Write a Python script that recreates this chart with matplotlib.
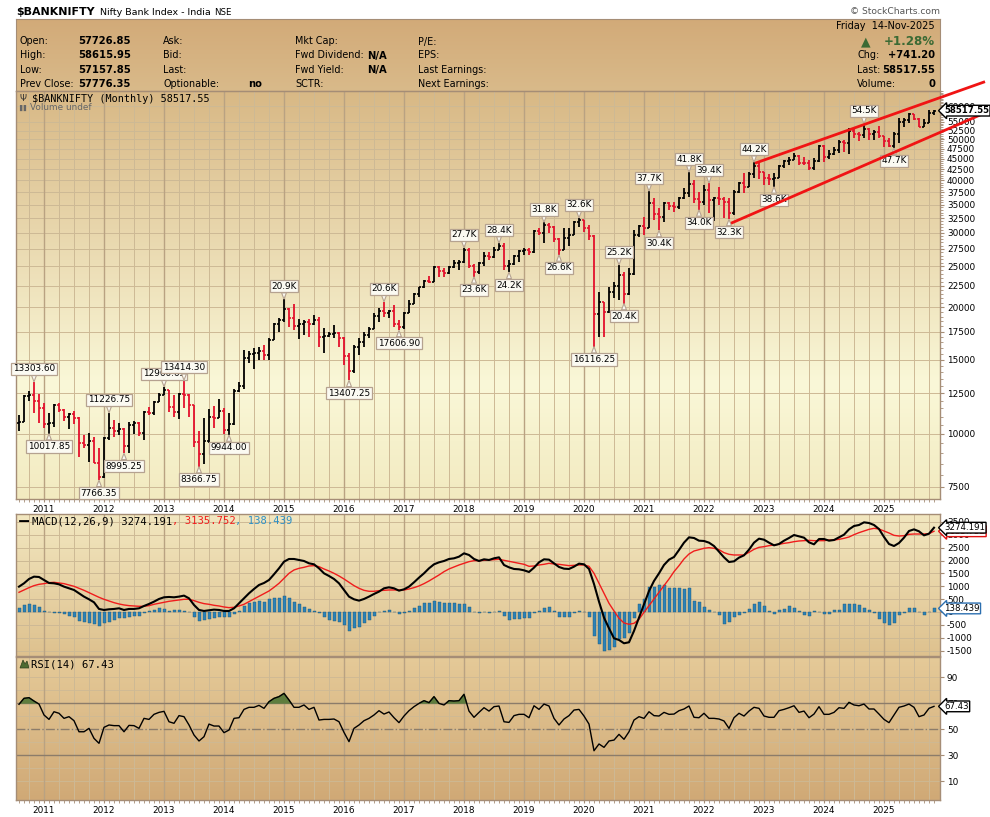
"""
$BANKNIFTY monthly chart (StockCharts style) - price bars, MACD, RSI
"""
import numpy as np
import matplotlib
matplotlib.use('Agg')
import matplotlib.pyplot as plt
from matplotlib.lines import Line2D
from matplotlib.patches import Polygon
from matplotlib.ticker import FixedLocator, NullFormatter

# ==================== data (monthly, Aug-2010 .. Nov-2025) ====================
START_YEAR, START_MONTH = 2010, 8

opens = [
    10600, 10700, 12300, 12400, 11950,
    11550, 10550, 10620, 11700, 11400, 11000, 11130, 10900, 9500, 9420, 9600, 8550,
    7900, 9800, 10350, 10150, 10300, 9350, 10500, 10600, 10050, 11300, 11200, 11900,
    12350, 12700, 11600, 11300, 12450, 12400, 11700, 9550, 8950, 9650, 11000, 10900,
    11350, 10200, 10550, 12650, 13000, 15150, 15450, 15600, 15700, 15400, 16750, 18200,
    18600, 19750, 18850, 18000, 18200, 18400, 18200, 18650, 17000, 17100, 17300, 17350,
    16920, 15300, 14100, 16100, 16500, 17200, 17700, 19100, 19600, 19400, 19550, 18200,
    17900, 19400, 20400, 21450, 22300, 23050, 22950, 24900, 24300, 24100, 24900, 25400,
    25550, 27400, 25000, 24250, 25500, 26400, 26350, 27350, 28000, 25100, 25300, 26500,
    27150, 27300, 27000, 30400, 30000, 31400, 31000, 29000, 27400, 29100, 29700, 31800,
    32150, 30800, 29500, 19300, 20600, 19500, 21700, 22500, 23900, 21450, 24000, 29600,
    31200, 30900, 35300, 33300, 32800, 35300, 34800, 34600, 36300, 37400, 39100, 36200,
    35480, 37900, 35900, 36300, 36100, 35500, 33400, 37500, 39500, 38600, 41300, 43230,
    41900, 40400, 40250, 40600, 43200, 44400, 44700, 45650, 44000, 43900, 42850, 44550,
    48300, 45400, 46150, 47100, 49400, 48950, 52340, 51500, 51300, 52980, 51475, 52055,
    50860, 49587, 48344, 51564, 55087, 55750, 57313, 55962, 53660, 54635, 57726.85,
]
highs = [
    11100, 12380, 12650, 13303.60, 12420,
    11820, 11200, 11800, 11850, 11480, 11200, 11330, 10990, 9960, 10050, 9850, 9250,
    9850, 11226.75, 10800, 10600, 10350, 10670, 10730, 10650, 11360, 11560, 11950, 12500,
    12960.65, 12750, 12390, 12510, 13414.30, 12450, 11700, 10170, 10900, 11450, 11630, 12090,
    11540, 11230, 12800, 13300, 15860, 15750, 15960, 16060, 16220, 16870, 18350, 18810,
    20900, 19900, 20350, 18720, 18650, 18710, 19160, 18990, 17810, 17490, 18140, 17490,
    17020, 15540, 16260, 16870, 17490, 17980, 19340, 19870, 20610, 19690, 20200, 18645,
    19510, 20800, 21570, 22370, 23200, 23700, 25040, 25040, 24720, 25040, 25880, 25880,
    27700, 27580, 25300, 25640, 27080, 27080, 27830, 28388, 28350, 25880, 26590, 27330,
    27580, 27580, 30490, 30770, 31800, 31740, 31100, 29100, 30770, 30770, 32000, 32600,
    32250, 31330, 29670, 21770, 20600, 22370, 22990, 25200, 24280, 24720, 30490, 31330,
    32790, 37708, 36250, 34320, 35590, 35590, 35590, 36580, 38280, 41830, 40070, 37590,
    38990, 39420, 36580, 38640, 36500, 36250, 37940, 39700, 41560, 41930, 44150, 43890,
    41930, 41330, 41560, 43490, 44700, 45520, 46360, 45940, 45520, 44700, 45100, 48510,
    48510, 47200, 48070, 49860, 49860, 53140, 53000, 52000, 54467, 53140, 52660, 53890,
    51000, 50310, 52180, 56120, 56120, 57680, 57600, 56300, 55800, 58580, 58615.95,
]
lows = [
    10190, 10650, 11950, 11230, 10600,
    10310, 10017.85, 10410, 11300, 10740, 10290, 10540, 8840, 9250, 8600, 8530, 7766.35,
    7850, 9680, 9860, 9950, 8995.25, 9030, 10000, 9900, 9680, 11100, 11100, 11900,
    12350, 11300, 11000, 10830, 11500, 10960, 9330, 8366.75, 8500, 9500, 10320, 10900,
    9980, 9944.00, 10500, 12600, 12800, 14700, 14270, 14990, 14990, 14990, 16750, 17420,
    18390, 17980, 17620, 16840, 17200, 17020, 18140, 16116, 15600, 17020, 16870, 16116,
    14580, 13407.25, 13980, 15400, 16116, 16870, 17700, 18470, 18990, 18820, 17980, 17606.90,
    17710, 19340, 20400, 21180, 22170, 22800, 22950, 23620, 23620, 24000, 24720, 24500,
    25410, 24720, 23600, 24000, 25000, 25900, 26120, 27330, 24500, 24200, 25180, 25640,
    26590, 26590, 26840, 29670, 28350, 29940, 28600, 26600, 27300, 27900, 29670, 31050,
    30210, 28870, 16116.25, 17020, 17020, 19400, 20990, 20800, 20400, 21400, 23900, 29400,
    29670, 30900, 32200, 30405, 31900, 34010, 33700, 34100, 36200, 36580, 35270, 34020,
    34950, 33390, 32000, 34950, 32500, 32290, 33100, 37250, 37250, 38600, 40400, 40300,
    38990, 39000, 38600, 40400, 42700, 43490, 44700, 43490, 43490, 42320, 42320, 44290,
    44290, 45000, 45900, 46500, 46780, 46077, 50310, 49700, 50310, 49860, 49860, 50400,
    47900, 47850, 47702, 49000, 53620, 54610, 55610, 53620, 53560, 54610, 57157.85,
]
closes = [
    10700, 12300, 12400, 11950, 11550,
    10550, 10620, 11700, 11400, 11000, 11130, 10900, 9500, 9420, 9600, 8550, 7900,
    9800, 10350, 10150, 10300, 9350, 10500, 10600, 10050, 11300, 11200, 11900, 12350,
    12700, 11600, 11300, 12450, 12400, 11700, 9550, 8950, 9650, 11000, 10900, 11350,
    10200, 10550, 12650, 13000, 15150, 15450, 15600, 15700, 15400, 16750, 18200, 18600,
    19750, 18850, 18000, 18200, 18400, 18200, 18650, 17000, 17100, 17300, 17350, 16920,
    15300, 14100, 16100, 16500, 17200, 17700, 19100, 19600, 19400, 19550, 18200, 17900,
    19400, 20400, 21450, 22300, 23050, 22950, 24900, 24300, 24100, 24900, 25400, 25550,
    27400, 25000, 24250, 25500, 26400, 26350, 27350, 28000, 25100, 25300, 26500, 27150,
    27300, 27000, 30400, 30000, 31400, 31000, 29000, 27400, 29100, 29700, 31800, 32150,
    30800, 29500, 19300, 20600, 19500, 21700, 22500, 23900, 21450, 24000, 29600, 31200,
    30900, 35300, 33300, 32800, 35300, 34800, 34600, 36300, 37400, 39100, 36200, 35480,
    37900, 35900, 36300, 36100, 35500, 33400, 37500, 39500, 38600, 41300, 43230, 41900,
    40400, 40250, 40600, 43200, 44400, 44700, 45650, 44000, 43900, 42850, 44550, 48300,
    45400, 46150, 47100, 49400, 48950, 52340, 51500, 51300, 52980, 51475, 52055, 50860,
    49587, 48344, 51564, 55087, 55750, 57313, 55962, 53660, 54635, 57776.35, 58517.55,
]

macd = [
    985, 1114, 1282, 1373, 1360,
    1243, 1127, 1114, 1075, 985, 920, 855, 726, 597, 493, 376, 118,
    79, 105, 118, 143, 79, 118, 118, 143, 234, 312, 402, 506,
    571, 584, 571, 597, 636, 532, 273, 79, 40, 66, 92, 79,
    40, 40, 143, 338, 532, 726, 894, 1049, 1127, 1243, 1464, 1696,
    1955, 2059, 2059, 2020, 1981, 1891, 1852, 1696, 1502, 1399, 1282, 1114,
    855, 597, 493, 441, 506, 597, 700, 791, 920, 959, 920, 829,
    881, 985, 1153, 1334, 1502, 1696, 1852, 1929, 1981, 2059, 2085, 2149,
    2279, 2214, 2059, 1981, 2046, 2020, 2085, 2123, 1826, 1735, 1671, 1658,
    1619, 1554, 1722, 1929, 2046, 2033, 1891, 1748, 1683, 1671, 1761, 1878,
    1852, 1671, 1088, 402, -219, -633, -1021, -1086, -1215, -1176, -736, -219,
    299, 816, 1205, 1502, 1826, 2033, 2136, 2408, 2693, 2900, 2874, 2770,
    2758, 2693, 2563, 2344, 2123, 1942, 1968, 2111, 2201, 2421, 2693, 2848,
    2809, 2693, 2589, 2641, 2770, 2874, 2990, 2939, 2887, 2706, 2628, 2835,
    2835, 2770, 2796, 2900, 3003, 3210, 3340, 3379, 3482, 3456, 3379, 3223,
    2913, 2641, 2563, 2680, 2887, 3146, 3210, 3133, 2977, 3042, 3274.191,
]
signal = [
    765, 855, 946, 1024, 1075,
    1101, 1140, 1153, 1127, 1101, 1049, 998, 920, 842, 752, 661, 571,
    493, 428, 363, 312, 273, 247, 234, 221, 221, 247, 299, 338,
    376, 415, 441, 467, 493, 493, 441, 376, 325, 299, 260, 234,
    195, 169, 182, 234, 299, 402, 506, 610, 713, 816, 959, 1114,
    1308, 1502, 1632, 1696, 1735, 1787, 1800, 1761, 1671, 1593, 1502, 1399,
    1282, 1153, 1024, 920, 842, 804, 804, 829, 842, 855, 855, 855,
    855, 894, 946, 1011, 1101, 1205, 1321, 1438, 1567, 1671, 1748, 1826,
    1891, 1955, 1994, 1994, 2007, 2020, 2033, 2046, 2007, 1968, 1929, 1891,
    1852, 1774, 1787, 1826, 1852, 1891, 1865, 1852, 1826, 1800, 1813, 1826,
    1826, 1774, 1502, 1114, 726, 338, 40, -245, -426, -477, -439, -284,
    -12, 247, 506, 765, 1024, 1282, 1567, 1800, 2059, 2253, 2369, 2421,
    2473, 2499, 2473, 2421, 2305, 2240, 2214, 2214, 2214, 2318, 2434, 2512,
    2538, 2576, 2602, 2628, 2667, 2693, 2732, 2758, 2770, 2783, 2770, 2770,
    2770, 2796, 2796, 2822, 2861, 2913, 3003, 3081, 3146, 3210, 3249, 3223,
    3146, 3068, 2977, 2951, 2964, 3016, 3029, 3029, 3029, 3042, 3135.752,
]
hist = [
    142, 272, 311, 272, 181,
    52, -13, -26, -52, -91, -142, -207, -336, -401, -414, -479, -543,
    -440, -375, -311, -246, -220, -194, -168, -142, -39, 39, 78, 168,
    116, 52, 65, 65, 39, -13, -181, -349, -324, -285, -233, -181,
    -207, -207, -65, 39, 220, 336, 401, 440, 401, 492, 531, 556,
    621, 531, 401, 298, 194, 104, 52, -52, -181, -311, -349, -375,
    -505, -725, -634, -569, -440, -311, -155, -13, 39, 65, -13, -65,
    -26, 39, 142, 246, 336, 362, 440, 401, 362, 362, 336, 298,
    324, 194, -13, -26, -13, -39, -13, 39, -150, -310, -285, -260,
    -245, -245, -50, 40, 170, 195, 40, -180, -180, -180, -50, 40,
    -15, -180, -930, -1254, -1500, -1475, -1345, -1050, -1000, -800, -220, 300,
    490, 980, 980, 1050, 1050, 920, 920, 920, 890, 945, 425, 400,
    205, 80, -15, -115, -480, -375, -180, -115, -50, 115, 320, 375,
    245, 40, -75, 80, 115, 235, 140, 40, -115, -155, 40, -10,
    -60, -75, 80, 80, 300, 310, 300, 270, 170, 80, -50, -285,
    -440, -505, -440, -115, -50, 140, 140, -15, -115, -15, 138.439,
]
rsi = [
    69.0, 73.6, 74.1, 71.5, 69.2,
    60.8, 57.4, 63.3, 62.1, 58.2, 59.5, 56.4, 47.9, 47.9, 50.5, 42.8, 39.0,
    51.3, 53.1, 52.6, 52.6, 47.9, 52.8, 52.6, 50.5, 58.2, 57.4, 61.3, 62.8,
    63.6, 55.6, 54.4, 60.3, 59.5, 53.1, 45.4, 40.8, 44.1, 53.8, 52.3, 52.3,
    47.2, 49.2, 58.2, 58.7, 65.1, 66.7, 66.7, 68.2, 65.9, 71.0, 73.6, 74.9,
    77.4, 72.3, 66.7, 66.7, 68.5, 65.1, 66.7, 56.9, 57.4, 57.4, 57.7, 55.6,
    47.4, 40.3, 50.5, 53.1, 56.4, 58.2, 60.8, 64.1, 61.5, 63.1, 58.7, 54.9,
    60.0, 64.1, 67.2, 69.7, 71.8, 70.3, 74.9, 69.7, 68.5, 71.8, 71.5, 71.8,
    76.7, 63.8, 59.0, 62.8, 66.4, 63.8, 67.2, 67.7, 55.6, 55.1, 60.3, 61.3,
    61.3, 58.7, 67.9, 65.1, 69.2, 67.7, 58.2, 53.1, 57.7, 60.3, 64.6, 65.1,
    60.0, 53.8, 33.3, 38.5, 35.9, 40.8, 41.5, 45.9, 42.1, 47.9, 56.9, 59.5,
    58.2, 63.3, 60.3, 60.0, 62.8, 61.3, 61.5, 64.1, 65.4, 67.7, 59.0, 58.7,
    62.1, 58.2, 58.2, 57.7, 56.2, 50.5, 58.7, 62.1, 60.0, 63.8, 66.7, 65.9,
    60.0, 59.0, 59.0, 64.1, 65.1, 66.4, 67.9, 62.8, 63.8, 58.7, 61.5, 67.2,
    61.3, 61.3, 62.8, 66.4, 65.9, 70.5, 68.5, 67.9, 69.2, 65.4, 65.4, 61.5,
    57.4, 54.9, 60.8, 66.7, 67.7, 69.2, 66.7, 59.5, 60.8, 65.9, 67.43,
]

# labelled swing highs / lows: (bar index, text)
high_labels = [(3, '13303.60'), (18, '11226.75'), (29, '12960.65'), (33, '13414.30'),
               (53, '20.9K'), (73, '20.6K'), (89, '27.7K'), (96, '28.4K'), (105, '31.8K'),
               (112, '32.6K'), (120, '25.2K'), (126, '37.7K'), (134, '41.8K'),
               (138, '39.4K'), (147, '44.2K'), (169, '54.5K')]
low_labels = [(6, '10017.85'), (16, '7766.35'), (21, '8995.25'), (36, '8366.75'),
              (42, '9944.00'), (66, '13407.25'), (76, '17606.90'), (91, '23.6K'),
              (98, '24.2K'), (108, '26.6K'), (115, '16116.25'), (121, '20.4K'),
              (128, '30.4K'), (136, '34.0K'), (142, '32.3K'), (151, '38.6K'), (175, '47.7K')]

# trend channel drawn on chart: (bar index, price) end points
upper_trend = [(147.2, 43900), (193.2, 68560)]
lower_trend = [(142.4, 31630), (194.2, 58510)]

price_ticks = [7500, 10000, 12500, 15000, 17500, 20000, 22500, 25000, 27500, 30000,
               32500, 35000, 37500, 40000, 42500, 45000, 47500, 50000, 52500, 55000, 60000]
macd_ticks = [-1500, -1000, -500, 0, 500, 1000, 1500, 2000, 2500, 3000, 3500]
rsi_ticks = [10, 30, 50, 70, 90]

# ==================== helpers ====================
W, H = 990, 817
UP_C, DN_C = 'black', '#e3102c'
GRID_MIN, GRID_YEAR = '#cdb995', '#b9a282'
FRAME = '#a58d76'


def rect(x0, y0, x1, y1):
    return [x0 / W, 1 - y1 / H, (x1 - x0) / W, (y1 - y0) / H]


def gradient(r, stops):
    bg = fig.add_axes(r, zorder=0)
    t = np.linspace(0, 1, 200)
    pos = [s[0] for s in stops]
    cols = np.array([s[1] for s in stops], dtype=float) / 255
    img = np.stack([np.interp(t, pos, cols[:, c]) for c in range(3)], axis=-1)
    bg.imshow(img[:, None, :], aspect='auto', extent=(0, 1, 0, 1))
    bg.set_axis_off()


def ftext(x, y, s, **kw):
    kw.setdefault('va', 'center')
    fig.text(x / W, 1 - y / H, s, **kw)


def style_axis(ax):
    for sp in ax.spines.values():
        sp.set_color(FRAME)
        sp.set_linewidth(1.0)
    ax.tick_params(axis='both', which='both', colors=FRAME, labelcolor='black',
                   labelsize=6.4, pad=2)
    ax.tick_params(axis='y', which='major', length=3, right=True, left=False,
                   labelright=True, labelleft=False)
    ax.tick_params(axis='y', which='minor', length=2, right=True, left=False)
    ax.tick_params(axis='x', which='major', length=2)
    ax.tick_params(axis='x', which='minor', length=2)


def vgrid(ax):
    for i in qtr_idx:
        ax.axvline(i, color=GRID_MIN, lw=0.7, zorder=0.5)
    for i in year_idx:
        ax.axvline(i, color=GRID_YEAR, lw=1.0, zorder=0.6)


def tag(ax, yval, text, ec, tc, bold=False, z=10):
    ax.annotate(text, xy=(1, yval), xycoords=('axes fraction', 'data'),
                xytext=(3, 0), textcoords='offset points', ha='left', va='center',
                fontsize=6.2, fontweight='bold' if bold else 'normal', color=tc,
                bbox=dict(boxstyle='larrow,pad=0.1', fc='white', ec=ec, lw=1.0),
                annotation_clip=False, zorder=z)


n = len(closes)
x = np.arange(n)
o, hi, lo, c = (np.array(a, dtype=float) for a in (opens, highs, lows, closes))
months = [(START_MONTH - 1 + i) % 12 + 1 for i in range(n)]
year_idx = [i for i in range(n) if months[i] == 1]
year_lab = [str(START_YEAR + (START_MONTH - 1 + i) // 12) for i in year_idx]
qtr_idx = [i for i in range(n) if months[i] in (4, 7, 10)]
XLIM = (-0.6, 184.2)

fig = plt.figure(figsize=(9.9, 8.17), dpi=100)
fig.patch.set_facecolor('white')

# ==================== header ====================
gradient(rect(16, 19, 940, 91), [(0, (210, 170, 120)), (1, (217, 186, 138))])
hdr = fig.add_axes(rect(16, 19, 940, 91), zorder=1)
hdr.set_facecolor('none')
hdr.set_xticks([]); hdr.set_yticks([])
for sp in hdr.spines.values():
    sp.set_color(FRAME)

ftext(16, 12, '$BANKNIFTY', fontsize=7.9, fontweight='bold')
ftext(100, 12.5, 'Nifty Bank Index - India', fontsize=6.8)
ftext(214, 12.5, 'NSE', fontsize=6.2)
ftext(940, 12, '\u00a9 StockCharts.com', fontsize=6.6, color='#555555', ha='right')

rows = [41.5, 55.5, 70, 84]
LBL = dict(fontsize=6.9)
VAL = dict(fontsize=7.2, fontweight='bold')
for y, lab, val in zip(rows, ['Open:', 'High:', 'Low:', 'Prev Close:'],
                       ['57726.85', '58615.95', '57157.85', '57776.35']):
    ftext(20, y, lab, **LBL)
    ftext(78, y, val, **VAL)
for y, lab in zip(rows, ['Ask:', 'Bid:', 'Last:', 'Optionable:']):
    ftext(163, y, lab, **LBL)
ftext(248, rows[3], 'no', **VAL)
for y, lab in zip(rows, ['Mkt Cap:', 'Fwd Dividend:', 'Fwd Yield:', 'SCTR:']):
    ftext(295, y, lab, **LBL)
ftext(367, rows[1], 'N/A', **VAL)
ftext(367, rows[2], 'N/A', **VAL)
for y, lab in zip(rows, ['P/E:', 'EPS:', 'Last Earnings:', 'Next Earnings:']):
    ftext(418, y, lab, **LBL)

ftext(935, 26, 'Friday  14-Nov-2025', fontsize=7, ha='right')
ftext(866, 41.5, '\u25b2', fontsize=9, color='#3b6a34', ha='center')
ftext(935, 41.5, '+1.28%', fontsize=8.6, fontweight='bold', color='#3b6a34', ha='right')
ftext(857, 55.5, 'Chg:', **LBL)
ftext(935, 55.5, '+741.20', ha='right', **VAL)
ftext(857, 70, 'Last:', **LBL)
ftext(935, 70, '58517.55', ha='right', **VAL)
ftext(857, 84, 'Volume:', **LBL)
ftext(935, 84, '0', ha='right', **VAL)

# ==================== price panel ====================
PR = rect(16, 91, 940, 499)
gradient(PR, [(0, (216, 184, 133)), (0.72, (250, 248, 216)), (1, (242, 234, 192))])
ax = fig.add_axes(PR, zorder=2)
ax.set_facecolor('none')
ax.set_yscale('log')
ax.set_xlim(*XLIM)
ax.set_ylim(7010, 65150)
vgrid(ax)
for t in price_ticks:
    ax.axhline(t, color=GRID_MIN, lw=0.7, zorder=0.5)

up = np.r_[True, c[1:] >= c[:-1]]
cols = np.where(up, UP_C, DN_C)
ax.vlines(x, lo, hi, colors=cols, lw=1.3, zorder=3)
ax.hlines(o, x - 0.45, x, colors=cols, lw=1.2, zorder=3)
ax.hlines(c, x, x + 0.45, colors=cols, lw=1.2, zorder=3)

ax.yaxis.set_major_locator(FixedLocator(price_ticks))
ax.set_yticklabels([str(t) for t in price_ticks])
ax.yaxis.set_minor_locator(FixedLocator(np.arange(7000, 65001, 500)))
ax.yaxis.set_minor_formatter(NullFormatter())
ax.set_xticks(year_idx)
ax.set_xticklabels(year_lab)
ax.set_xticks(x, minor=True)
style_axis(ax)

LBOX = dict(boxstyle='square,pad=0.18', fc='#fbfaf2', ec='#b5a290', lw=0.9)
WEDGE = dict(arrowstyle='wedge,tail_width=0.55,shrink_factor=0.5', fc='#fbfaf2',
             ec='#b5a290', lw=0.8, shrinkA=0, shrinkB=0)
for i, s in high_labels:
    ax.annotate(s, xy=(i, hi[i]), xytext=(0, 6), textcoords='offset points',
                ha='center', va='bottom', fontsize=6.4, bbox=LBOX, arrowprops=WEDGE,
                zorder=6, annotation_clip=False)
for i, s in low_labels:
    ax.annotate(s, xy=(i, lo[i]), xytext=(0, -6), textcoords='offset points',
                ha='center', va='top', fontsize=6.4, bbox=LBOX, arrowprops=WEDGE,
                zorder=6, annotation_clip=False)

for seg in (upper_trend, lower_trend):
    ax.plot([p[0] for p in seg], [p[1] for p in seg], color='#f01414', lw=2.0,
            clip_on=False, zorder=7, solid_capstyle='butt')

tag(ax, c[-1], f'{c[-1]:.2f}', 'black', 'black', bold=True)

ftext(32, 98.5, '$BANKNIFTY (Monthly) 58517.55', family='DejaVu Sans Mono', fontsize=7.3)
ftext(20, 98.5, '\u03a8', fontsize=6.5, color='#333333')
ftext(30, 108, 'Volume undef', fontsize=6.4, color='#666666')
ftext(19, 108, '\u258c\u258c', fontsize=4.5, color='#666666')

# ==================== MACD panel ====================
MR = rect(16, 514, 940, 656)
gradient(MR, [(0, (242, 231, 192)), (1, (222, 193, 142))])
axm = fig.add_axes(MR, zorder=2)
axm.set_facecolor('none')
axm.set_xlim(*XLIM)
axm.set_ylim(-1709, 3806)
vgrid(axm)
for t in macd_ticks:
    axm.axhline(t, color=GRID_MIN, lw=0.7, zorder=0.5)
axm.bar(x, hist, width=0.6, color='#2c82b6', edgecolor='#1d5677', lw=0.3, zorder=2)
axm.plot(x, macd, color='black', lw=1.5, zorder=4)
axm.plot(x, signal, color='#f01c1c', lw=1.0, zorder=3)
axm.yaxis.set_major_locator(FixedLocator(macd_ticks))
axm.set_yticklabels([str(t) for t in macd_ticks])
axm.set_xticks(year_idx)
axm.set_xticklabels([])
axm.set_xticks(x, minor=True)
style_axis(axm)
axm.tick_params(axis='x', which='both', length=0)

tag(axm, signal[-1], f'{signal[-1]:.3f}', '#e01010', '#e01010', z=9)
tag(axm, macd[-1], f'{macd[-1]:.3f}', 'black', 'black', z=10)
tag(axm, hist[-1], f'{hist[-1]:.3f}', '#2c6fb0', 'black', z=10)

MONO = dict(family='DejaVu Sans Mono', fontsize=7.6)
cw = 0.602 * 7.6 * 100 / 72
p1 = 'MACD(12,26,9) 3274.191'
p2 = ', 3135.752'
ftext(32, 521, p1, color='black', **MONO)
ftext(32 + cw * len(p1), 521, p2, color='#f01c1c', **MONO)
ftext(32 + cw * (len(p1) + len(p2)), 521, ', 138.439', color='#2c8fc6', **MONO)
fig.add_artist(Line2D([20 / W, 28 / W], [1 - 521 / H] * 2, color='black', lw=2))

# ==================== RSI panel ====================
RR = rect(16, 657, 940, 800)
gradient(RR, [(0, (229, 202, 152)), (1, (208, 169, 118))])
axr = fig.add_axes(RR, zorder=2)
axr.set_facecolor('none')
axr.set_xlim(*XLIM)
axr.set_ylim(-4.6, 105.4)
vgrid(axr)
for t in range(10, 100, 10):
    axr.axhline(t, color=GRID_MIN, lw=0.6, zorder=0.5)
axr.axhline(70, color='#8c7c6a', lw=1.0, zorder=1)
axr.axhline(30, color='#8c7c6a', lw=1.0, zorder=1)
axr.axhline(50, color='#8c7c6a', lw=1.0, ls='-.', zorder=1)
rv = np.array(rsi)
axr.fill_between(x, 70, rv, where=rv > 70, interpolate=True, color='#5e7d3e', zorder=2)
axr.plot(x, rv, color='black', lw=1.0, zorder=3)
axr.yaxis.set_major_locator(FixedLocator(rsi_ticks))
axr.set_yticklabels([str(t) for t in rsi_ticks])
axr.set_xticks(year_idx)
axr.set_xticklabels(year_lab)
axr.set_xticks(x, minor=True)
style_axis(axr)
tag(axr, rv[-1], f'{rv[-1]:.2f}', 'black', 'black')

ftext(31, 664.5, 'RSI(14) 67.43', color='black', **MONO)
fig.add_artist(Polygon([[20 / W, 1 - 668 / H], [23 / W, 1 - 660 / H], [25 / W, 1 - 664 / H],
                        [27 / W, 1 - 661 / H], [29 / W, 1 - 668 / H]],
                       closed=True, fc='#4d6b32', ec='#2d3f1c', lw=0.5))

fig.savefig('out.png', dpi=100, facecolor='white')
